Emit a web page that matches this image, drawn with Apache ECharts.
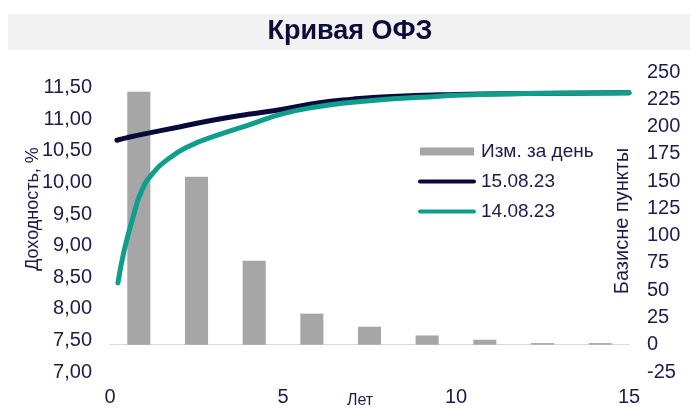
<!DOCTYPE html>
<html>
<head>
<meta charset="utf-8">
<script src="https://cdn.jsdelivr.net/npm/echarts@6/dist/echarts.min.js"></script>
<style>
html,body{margin:0;padding:0;background:#fff;}
#c{width:699px;height:409px;}
</style>
</head>
<body>
<div id="c"></div>
<script>
// ---- data ----
const barCategories = ['1', '2', '3', '4', '5', '6', '7', '8', '9'];
const barChange = [232, 154, 77, 28.5, 16.5, 8.5, 4.6, 1.5, 1.5];
const curve150823 = [[0.2,10.67],[0.5,10.71],[1,10.77],[2,10.88],[3,10.99],[4,11.08],[5,11.16],[6,11.26],[7,11.32],[8,11.36],[10,11.395],[12,11.41],[15,11.42]];
const curve140823 = [[0.23,8.41],[0.4,8.9],[0.65,9.42],[0.9,9.85],[1.2,10.12],[1.7,10.38],[2.3,10.58],[3,10.73],[4,10.91],[5,11.09],[6,11.2],[7,11.27],[8,11.32],[9,11.35],[10,11.38],[12,11.41],[15,11.42]];
const xTicks = [0, 5, 10, 15];

const navy = '#1c1c4c';
const font = 'Liberation Sans, Arial, sans-serif';

const chart = echarts.init(document.getElementById('c'));
chart.setOption({
  animation: false,
  textStyle: { fontFamily: font },
  graphic: [
    { type: 'rect', shape: { x: 8, y: 14, width: 682, height: 36 }, style: { fill: '#f2f2f2' }, z: -10 },
    { type: 'text', x: 350, y: 32, style: { text: 'Кривая ОФЗ', font: 'bold 27px ' + font, fill: '#0c0c38', textAlign: 'center', textVerticalAlign: 'middle' } },
    { type: 'text', x: 33, y: 209, rotation: Math.PI / 2, style: { text: 'Доходность, %', font: '18px ' + font, fill: navy, textAlign: 'center', textVerticalAlign: 'middle' } },
    { type: 'text', x: 622, y: 221, rotation: Math.PI / 2, style: { text: 'Базисне пункты', font: '20px ' + font, fill: navy, textAlign: 'center', textVerticalAlign: 'middle' } },
    { type: 'text', x: 360, y: 401, style: { text: 'Лет', font: '16px ' + font, fill: navy, textAlign: 'center', textVerticalAlign: 'middle' } }
  ],
  legend: {
    orient: 'vertical',
    left: 418,
    top: 142,
    padding: 0,
    itemWidth: 58,
    itemHeight: 8,
    itemGap: 11,
    textStyle: { fontSize: 19, color: navy, lineHeight: 19, fontFamily: font },
    data: [
      { name: 'Изм. за день', icon: 'path://M2,0h54v8h-54z' },
      { name: '15.08.23', icon: 'path://M2,0 L56,0 A2,2 0 0 1 56,4 L2,4 A2,2 0 0 1 2,0 Z' },
      { name: '14.08.23', icon: 'path://M2,0 L56,0 A2,2 0 0 1 56,4 L2,4 A2,2 0 0 1 2,0 Z' }
    ]
  },
  grid: { left: 110, right: 70, top: 72, bottom: 37 },
  xAxis: [
    {
      type: 'value', min: 0, max: 15, interval: 5,
      axisLine: { show: true, lineStyle: { color: '#d9d9d9', width: 1 } },
      axisTick: { show: false },
      splitLine: { show: false },
      axisLabel: { fontSize: 20, color: navy, margin: 15, fontFamily: font,
        customValues: xTicks }
    },
    {
      type: 'category', data: barCategories, show: false, boundaryGap: true
    }
  ],
  yAxis: [
    {
      type: 'value', min: 7, max: 11.75, interval: 0.5,
      axisLine: { show: false }, axisTick: { show: false }, splitLine: { show: false },
      axisLabel: { fontSize: 20, color: navy, margin: 18, showMaxLabel: false, fontFamily: font,
        formatter: v => v.toFixed(2).replace('.', ',') }
    },
    {
      type: 'value', min: -25, max: 250, interval: 25, position: 'right',
      axisLine: { show: false }, axisTick: { show: false }, splitLine: { show: false },
      axisLabel: { fontSize: 20, color: navy, margin: 18, fontFamily: font }
    }
  ],
  series: [
    {
      name: 'Изм. за день', type: 'bar', xAxisIndex: 1, yAxisIndex: 1,
      data: barChange, barWidth: '40%',
      itemStyle: { color: '#a6a6a6' }
    },
    {
      name: '15.08.23', type: 'line', xAxisIndex: 0, yAxisIndex: 0,
      data: curve150823, smooth: true, symbol: 'none',
      lineStyle: { color: '#0a0a3a', width: 5, cap: 'round' },
      itemStyle: { color: '#0a0a3a' }
    },
    {
      name: '14.08.23', type: 'line', xAxisIndex: 0, yAxisIndex: 0,
      data: curve140823, smooth: true, symbol: 'none',
      lineStyle: { color: '#109e8c', width: 5, cap: 'round' },
      itemStyle: { color: '#109e8c' }
    }
  ]
});
</script>
</body>
</html>
